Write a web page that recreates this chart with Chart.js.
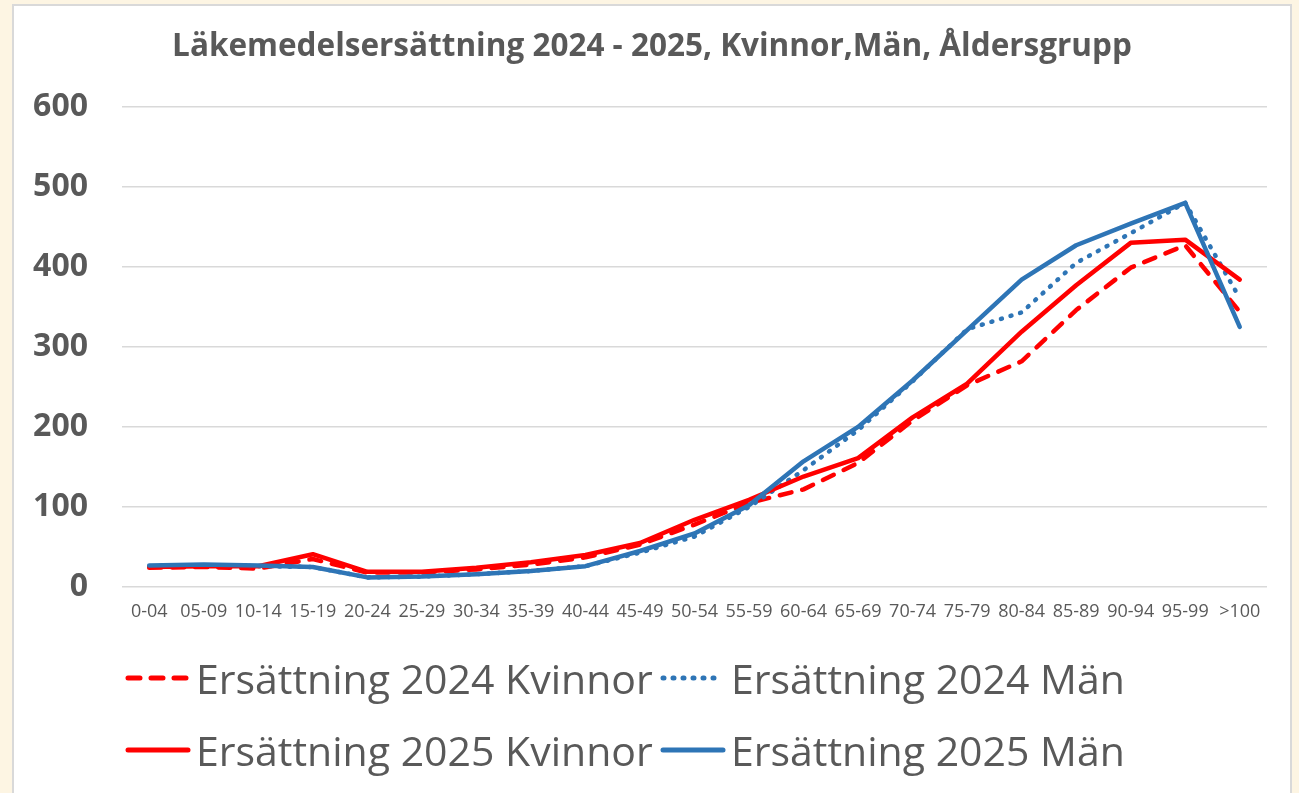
<!DOCTYPE html>
<html lang="sv">
<head>
<meta charset="utf-8">
<title>Läkemedelsersättning 2024 - 2025</title>
<script src="https://cdn.jsdelivr.net/npm/chart.js@4/dist/chart.umd.min.js"></script>
<style>
  html, body { margin: 0; padding: 0; background: #fdf5e3; width: 1299px; height: 793px; overflow: hidden; }
  #frame {
    position: absolute; left: 12px; top: 4px; width: 1276px; height: 800px;
    background: #fff; border: 2px solid #d9d9d9;
  }
  #chartBox { position: absolute; left: 0; top: 0; width: 1276px; height: 640px; }
  #legend {
    position: absolute; left: 111px; top: 636px;
    font-family: "Open Sans", sans-serif; font-size: 41px; color: #595959;
    display: grid; grid-template-columns: 535px 560px; grid-auto-rows: 72px;
  }
  .item { display: flex; align-items: center; white-space: nowrap; }
  .item svg { margin-right: 5px; flex: none; }
</style>
</head>
<body>
<div id="frame">
  <div id="chartBox"><canvas id="chart"></canvas></div>
  <div id="legend"></div>
</div>
<script>
  const ageGroups = ['0-04', '05-09', '10-14', '15-19', '20-24', '25-29', '30-34', '35-39', '40-44', '45-49',
    '50-54', '55-59', '60-64', '65-69', '70-74', '75-79', '80-84', '85-89', '90-94', '95-99', '>100'];

  const kvinnor2024 = [24, 25, 23, 35, 18, 18, 22, 28, 37, 53, 78, 105, 122, 155, 208, 252, 282, 346, 399, 427, 344];
  const man2024 = [26, 27, 26, 25, 12, 13, 16, 20, 26, 43, 63, 100, 146, 196, 257, 322, 343, 405, 442, 480, 361];
  const kvinnor2025 = [25, 26, 26, 41, 19, 19, 24, 31, 40, 55, 84, 109, 138, 161, 212, 254, 319, 377, 430, 434, 384];
  const man2025 = [27, 28, 27, 25, 12, 13, 16, 20, 26, 45, 67, 102, 157, 200, 258, 321, 384, 427, 454, 480, 325];

  const yTicks = [0, 100, 200, 300, 400, 500, 600];

  const RED = '#ff0000';
  const BLUE = '#2e75b6';
  const TEXT = '#595959';

  const series = [
    { label: 'Ersättning 2024 Kvinnor', data: kvinnor2024, color: RED, dash: [12, 11], order: 4 },
    { label: 'Ersättning 2024 Män', data: man2024, color: BLUE, dash: [1, 9], order: 3 },
    { label: 'Ersättning 2025 Kvinnor', data: kvinnor2025, color: RED, dash: [], order: 2 },
    { label: 'Ersättning 2025 Män', data: man2025, color: BLUE, dash: [], order: 1 }
  ];

  const datasets = series.map((s) => ({
    label: s.label,
    data: s.data,
    yAxisID: 'y',
    borderColor: s.color,
    backgroundColor: s.color,
    borderWidth: 4.5,
    borderDash: s.dash,
    borderCapStyle: 'round',
    borderJoinStyle: 'round',
    pointRadius: 0,
    pointHoverRadius: 0,
    tension: 0,
    order: s.order
  }));

  new Chart(document.getElementById('chart'), {
    type: 'line',
    data: { labels: ageGroups, datasets },
    options: {
      responsive: true,
      maintainAspectRatio: false,
      animation: false,
      layout: { padding: 0 },
      plugins: {
        legend: { display: false },
        tooltip: { enabled: false },
        title: {
          display: true,
          text: 'Läkemedelsersättning 2024 - 2025, Kvinnor,Män, Åldersgrupp',
          color: TEXT,
          font: { family: 'Open Sans', size: 31.5, weight: 'bold' },
          padding: { top: 22, bottom: 41 }
        }
      },
      scales: {
        x: {
          offset: true,
          grid: { display: false, drawTicks: false },
          border: { display: false },
          ticks: {
            autoSkip: false, maxRotation: 0, minRotation: 0, padding: 14,
            color: TEXT, font: { family: 'Open Sans', size: 18 }
          },
          afterFit: (scale) => { scale.height = 59; }
        },
        y: {
          min: 0,
          max: 600,
          afterBuildTicks: (scale) => { scale.ticks = yTicks.map((v) => ({ value: v })); },
          grid: { color: '#d9d9d9', lineWidth: 1.5, drawTicks: false },
          border: { display: false },
          ticks: {
            padding: 34, color: TEXT,
            font: { family: 'Open Sans', size: 32, weight: 'bold' }
          },
          afterFit: (scale) => { scale.width = 108; }
        },
        // empty right margin so the title stays centred on the whole box
        spacer: {
          type: 'linear',
          position: 'right',
          grid: { display: false, drawTicks: false },
          border: { display: false },
          ticks: { display: false },
          afterFit: (scale) => { scale.width = 23; }
        }
      }
    }
  });

  // legend in two columns, like the original
  const legend = document.getElementById('legend');
  series.forEach((s) => {
    const item = document.createElement('div');
    item.className = 'item';
    const dash = s.dash.length ? `stroke-dasharray="${s.dash.join(' ')}"` : '';
    item.innerHTML = `<svg width="66" height="12"><line x1="3" y1="6" x2="63" y2="6" stroke="${s.color}" stroke-width="5" stroke-linecap="round" ${dash}/></svg><span>${s.label}</span>`;
    legend.appendChild(item);
  });
</script>
</body>
</html>
